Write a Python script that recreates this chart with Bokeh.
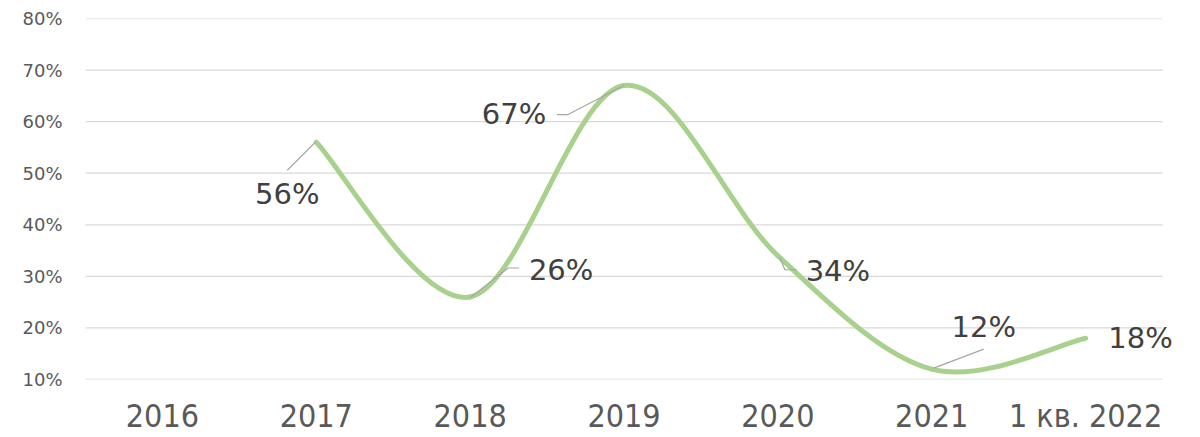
from bokeh.plotting import figure
from bokeh.models import Range1d, FixedTicker, NumeralTickFormatter, Label
from bokeh.embed import file_html
from bokeh.resources import INLINE

# ---- data ----
categories = ["2016", "2017", "2018", "2019", "2020", "2021", "1 кв. 2022"]
values = [None, 0.56, 0.26, 0.67, 0.34, 0.12, 0.18]
label_texts = ["", "56%", "26%", "67%", "34%", "12%", "18%"]
y_ticks = [0.1, 0.2, 0.3, 0.4, 0.5, 0.6, 0.7, 0.8]

# ---- layout / style (pixel offsets relative to each data point, screen y down) ----
label_offsets = {1: (-29, 52), 2: (91, -27), 3: (-110, 28), 4: (60, 15), 5: (52, -42), 6: (55, 0)}
leader_offsets = {
    1: [(-1, 0), (-29, 28)],
    2: [(1, 0), (38, -29), (49, -29)],
    3: [(-67, 29), (-56, 29), (0, 0)],
    4: [(2, 2), (7, 14), (19, 14)],
    5: [(2, -1), (52, -20)],
}

W, H = 1200, 437
PLOT_L, PLOT_R = 85, 1162          # visible plot area (gridline extent)
ML, MR, MT, MB = 85, 4, 18, 58     # frame extends right so the last label is not clipped
n_cat = len(categories)
px_x = (PLOT_R - PLOT_L) / n_cat
x0r = -0.5
x1r = n_cat - 0.5 + (W - MR - PLOT_R) / px_x
y0r, y1r = 0.10, 0.80
frame_h = H - MT - MB
px_y = frame_h / (y1r - y0r)

p = figure(width=W, height=H, output_backend="svg", toolbar_location=None,
           x_range=Range1d(x0r, x1r), y_range=Range1d(y0r, y1r),
           min_border_left=ML, min_border_right=MR, min_border_top=MT, min_border_bottom=MB)
p.outline_line_color = None
p.background_fill_color = "white"
p.border_fill_color = "white"

# axes
p.xaxis.ticker = FixedTicker(ticks=list(range(n_cat)))
p.xaxis.major_label_overrides = {i: c for i, c in enumerate(categories)}
p.xaxis.axis_line_color = None
p.xaxis.major_tick_line_color = None
p.xaxis.minor_tick_line_color = None
p.xaxis.major_label_text_font = "'DejaVu Sans Condensed', 'Liberation Sans'"
p.xaxis.major_label_text_font_size = "32px"
p.xaxis.major_label_text_color = "#595959"
p.xaxis.major_label_standoff = 11

p.yaxis.ticker = FixedTicker(ticks=y_ticks)
p.yaxis.formatter = NumeralTickFormatter(format="0%")
p.yaxis.axis_line_color = None
p.yaxis.major_tick_line_color = None
p.yaxis.minor_tick_line_color = None
p.yaxis.major_label_text_font = "DejaVu Sans"
p.yaxis.major_label_text_font_size = "18px"
p.yaxis.major_label_text_color = "#595959"
p.yaxis.major_label_standoff = 17

p.xgrid.grid_line_color = None
p.ygrid.grid_line_color = None

# horizontal gridlines over the category area only
p.segment(x0=[x0r] * len(y_ticks), y0=y_ticks, x1=[n_cat - 0.5] * len(y_ticks), y1=y_ticks,
          line_color="#d9d9d9", line_width=1.3)

# smoothed curve (Catmull-Rom style Bezier, like Excel's smoothed line)
idx = [i for i, v in enumerate(values) if v is not None]
pts = [(float(i), values[i]) for i in idx]
n = len(pts)
bx0, by0, bx1, by1, cx0, cy0, cx1, cy1 = ([] for _ in range(8))
for k in range(n - 1):
    pm = pts[k - 1] if k > 0 else pts[k]
    pa = pts[k]
    pb = pts[k + 1]
    pn = pts[k + 2] if k + 2 < n else pts[k + 1]
    bx0.append(pa[0]); by0.append(pa[1])
    bx1.append(pb[0]); by1.append(pb[1])
    cx0.append(pa[0] + (pb[0] - pm[0]) / 6); cy0.append(pa[1] + (pb[1] - pm[1]) / 6)
    cx1.append(pb[0] - (pn[0] - pa[0]) / 6); cy1.append(pb[1] - (pn[1] - pa[1]) / 6)
p.bezier(x0=bx0, y0=by0, x1=bx1, y1=by1, cx0=cx0, cy0=cy0, cx1=cx1, cy1=cy1,
         line_color="#a9d18e", line_width=5, line_cap="round")

# leader lines
xs, ys = [], []
for i, offs in leader_offsets.items():
    xs.append([i + dx / px_x for dx, dy in offs])
    ys.append([values[i] - dy / px_y for dx, dy in offs])
p.multi_line(xs=xs, ys=ys, line_color="#a6a6a6", line_width=1.2)

# data labels
for i in idx:
    dx, dy = label_offsets[i]
    p.add_layout(Label(x=float(i), y=values[i], text=label_texts[i], x_offset=dx, y_offset=-dy,
                       text_font="DejaVu Sans", text_font_size="29px", text_color="#404040",
                       text_align="center", text_baseline="alphabetic"))

open("out.html", "w").write(file_html(p, INLINE))
